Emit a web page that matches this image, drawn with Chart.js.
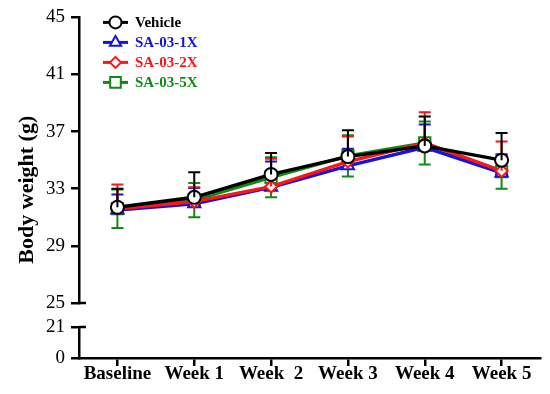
<!DOCTYPE html>
<html><head><meta charset="utf-8">
<script src="https://cdn.jsdelivr.net/npm/chart.js@4.4.1/dist/chart.umd.min.js"></script>
<style>html,body{margin:0;padding:0;background:#fff;}</style>
</head><body>
<canvas id="c" width="550" height="394"></canvas>
<script>
// ---- data ----
const categories = ['Baseline', 'Week 1', 'Week  2', 'Week 3', 'Week 4', 'Week 5'];
const seriesNames = ['Vehicle', 'SA-03-1X', 'SA-03-2X', 'SA-03-5X'];
const vehicle   = [31.7, 32.4, 34.0, 35.25, 36.0, 35.0];
const vehicleSD = [1.3, 1.75, 1.5, 1.85, 2.05, 1.9];
const sa1x      = [31.5, 31.95, 33.1, 34.6, 35.9, 34.1];
const sa1xSD    = [1.1, 1.1, 1.8, 1.2, 1.6, 1.3];
const sa2x      = [31.6, 32.1, 33.15, 34.9, 36.2, 34.25];
const sa2xSD    = [1.7, 1.0, 1.95, 1.75, 2.15, 2.05];
const sa5x      = [31.6, 32.2, 33.8, 35.3, 36.2, 34.2];
const sa5xSD    = [1.35, 1.2, 1.4, 1.45, 1.5, 1.2];
const upperTicks = [25, 29, 33, 37, 41, 45];
const lowerTicks = [0, 21];
const yTitle = 'Body weight (g)';

// ---- styles ----
const FONT = "'Liberation Serif', 'Times New Roman', serif";
const colors = ['#000000', '#1414dc', '#ff1414', '#118a11'];
const pointStyles = ['circle', 'triangle', 'rectRot', 'rect'];
const pointRadii = [6.5, 7, 6, 8];
const errDirs = ['up', 'up', 'up', 'both'];
const drawOrder = [0, 2, 1, 3];
const seriesValues = [vehicle, sa1x, sa2x, sa5x];
const seriesErrors = [vehicleSD, sa1xSD, sa2xSD, sa5xSD];

const datasets = seriesNames.map((name, i) => ({
  label: name,
  data: seriesValues[i],
  yAxisID: 'y',
  borderColor: colors[i],
  backgroundColor: '#ffffff',
  borderWidth: 3.4,
  pointStyle: pointStyles[i],
  pointRadius: pointRadii[i],
  pointBorderWidth: 2,
  pointBackgroundColor: '#ffffff',
  pointBorderColor: colors[i],
  tension: 0,
  order: drawOrder[i]
}));

const errorBars = {
  id: 'errorBars',
  afterDatasetDraw(chart, args) {
    const i = args.index;
    const vals = seriesValues[i], errs = seriesErrors[i];
    const ys = chart.scales.y;
    const ctx = chart.ctx;
    ctx.save();
    ctx.strokeStyle = colors[i];
    ctx.lineWidth = 2;
    args.meta.data.forEach((pt, k) => {
      const top = ys.getPixelForValue(vals[k] + errs[k]);
      const bot = errDirs[i] === 'both' ? ys.getPixelForValue(vals[k] - errs[k]) : ys.getPixelForValue(vals[k]);
      ctx.beginPath();
      ctx.moveTo(pt.x, top); ctx.lineTo(pt.x, bot);
      ctx.moveTo(pt.x - 6, top); ctx.lineTo(pt.x + 6, top);
      if (errDirs[i] === 'both') { ctx.moveTo(pt.x - 6, bot); ctx.lineTo(pt.x + 6, bot); }
      ctx.stroke();
    });
    ctx.restore();
  }
};

function drawMarker(ctx, style, r, x, y) {
  if (Chart.helpers && Chart.helpers.drawPoint) {
    Chart.helpers.drawPoint(ctx, {pointStyle: style, radius: r, borderWidth: 2, rotation: 0}, x, y);
  } else {
    ctx.beginPath(); ctx.arc(x, y, r, 0, Math.PI * 2); ctx.fill(); ctx.stroke();
  }
}

const extras = {
  id: 'extras',
  afterDraw(chart) {
    const ctx = chart.ctx, a = chart.chartArea;
    // broken-axis end caps
    ctx.save();
    ctx.strokeStyle = '#000'; ctx.lineWidth = 2.5;
    const p25 = chart.scales.y.getPixelForValue(chart.scales.y.min);
    const p21 = chart.scales.y0.getPixelForValue(chart.scales.y0.max);
    ctx.beginPath();
    ctx.moveTo(a.left, p25); ctx.lineTo(a.left + 7, p25);
    ctx.moveTo(a.left, p21); ctx.lineTo(a.left + 7, p21);
    ctx.stroke();
    // y title
    ctx.fillStyle = '#000';
    ctx.font = "bold 22px " + FONT;
    ctx.textAlign = 'center'; ctx.textBaseline = 'middle';
    ctx.translate(27, (a.top + a.bottom) / 2 + 2);
    ctx.rotate(-Math.PI / 2);
    ctx.fillText(yTitle, 0, 0);
    ctx.restore();
    // legend
    ctx.save();
    seriesNames.forEach((name, i) => {
      const cy = a.top + 5 + i * 20;
      const x0 = a.left + 24, x1 = x0 + 25;
      ctx.strokeStyle = colors[i]; ctx.lineWidth = 3;
      ctx.beginPath(); ctx.moveTo(x0, cy); ctx.lineTo(x1, cy); ctx.stroke();
      ctx.fillStyle = '#ffffff'; ctx.lineWidth = 2;
      drawMarker(ctx, pointStyles[i], pointRadii[i] - 0.5, (x0 + x1) / 2, cy);
      ctx.fillStyle = colors[i];
      ctx.font = "bold 15px " + FONT;
      ctx.textAlign = 'left'; ctx.textBaseline = 'middle';
      ctx.fillText(name, x1 + 7, cy + 1);
    });
    ctx.restore();
  }
};

const axisGrid = {drawOnChartArea: false, tickLength: 8, color: '#000', lineWidth: 2.5};
const axisBorder = {display: true, color: '#000', width: 2.5};

new Chart(document.getElementById('c'), {
  type: 'line',
  data: {labels: categories, datasets},
  plugins: [errorBars, extras],
  options: {
    responsive: false,
    animation: false,
    devicePixelRatio: 1,
    layout: {padding: {left: 40, top: 17, right: 10, bottom: 11}},
    plugins: {legend: {display: false}, tooltip: {enabled: false}},
    scales: {
      x: {
        type: 'category', offset: true,
        grid: Object.assign({offset: false}, axisGrid),
        border: axisBorder,
        ticks: {color: '#000', font: {family: FONT, size: 19, weight: 'bold', lineHeight: 1}, padding: -1, maxRotation: 0, autoSkip: false}
      },
      y0: {
        type: 'linear', position: 'left', stack: 'w', stackWeight: 31,
        min: 0, max: 21,
        afterBuildTicks: s => { s.ticks = lowerTicks.map(v => ({value: v})); },
        grid: axisGrid, border: axisBorder,
        ticks: {color: '#000', font: {family: FONT, size: 19, lineHeight: 1}, padding: 6, autoSkip: false}
      },
      yGap: {
        type: 'linear', position: 'left', stack: 'w', stackWeight: 24,
        min: 21, max: 25,
        ticks: {display: false}, grid: {display: false}, border: {display: false}
      },
      y: {
        type: 'linear', position: 'left', stack: 'w', stackWeight: 285,
        min: 25, max: 45,
        afterBuildTicks: s => { s.ticks = upperTicks.map(v => ({value: v})); },
        grid: axisGrid, border: axisBorder,
        ticks: {color: '#000', font: {family: FONT, size: 19}, padding: 6, autoSkip: false}
      }
    }
  }
});
</script>
</body></html>
